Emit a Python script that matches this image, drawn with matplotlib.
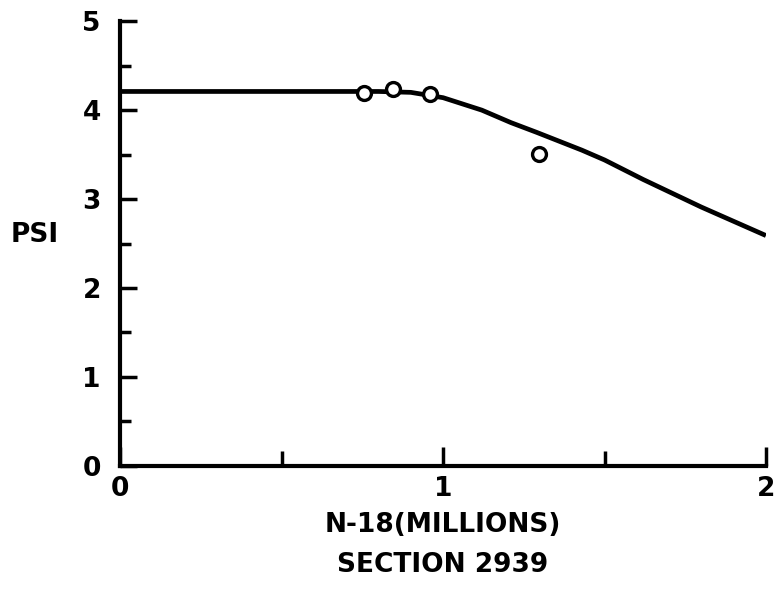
import numpy as np
import matplotlib.pyplot as plt

# --- data ---
# fitted PSI curve (N-18 in millions, PSI)
curve_n = [0.0, 0.80, 0.90, 0.95, 1.00, 1.12, 1.21, 1.29, 1.43, 1.50, 1.62, 1.80, 2.00]
curve_psi = [4.21, 4.21, 4.20, 4.17, 4.14, 4.00, 3.86, 3.75, 3.55, 3.44, 3.22, 2.91, 2.59]

# observed points
obs_n = [0.755, 0.845, 0.96, 1.297]
obs_psi = [4.19, 4.24, 4.18, 3.51]

x_ticks = [0, 1, 2]
x_minor = [0.5, 1.5]
y_ticks = [0, 1, 2, 3, 4, 5]
y_minor = [0.5, 1.5, 2.5, 3.5, 4.5]

plt.rcParams['font.family'] = ['DejaVu Sans']
plt.rcParams['font.weight'] = 'bold'

fig = plt.figure(figsize=(7.76, 5.89), dpi=100)
ax = fig.add_axes([0.155, 0.209, 0.832, 0.755])

ax.plot(curve_n, curve_psi, color='black', lw=3.4, solid_capstyle='butt', zorder=2)
ax.plot(obs_n, obs_psi, 'o', ms=10, mfc='white', mec='black', mew=2.4, zorder=3)

ax.set_xlim(0, 2)
ax.set_ylim(0, 5)
for s in ['top', 'right']:
    ax.spines[s].set_visible(False)
for s in ['left', 'bottom']:
    ax.spines[s].set_linewidth(3)

ax.set_xticks(x_ticks)
ax.set_xticks(x_minor, minor=True)
ax.set_yticks(y_ticks)
ax.set_yticks(y_minor, minor=True)
ax.set_xticklabels([str(t) for t in x_ticks])
ax.set_yticklabels([str(t) for t in y_ticks])

ax.tick_params(axis='both', which='major', direction='in', width=2.5, labelsize=19)
ax.tick_params(axis='both', which='minor', direction='in', width=2.5)
ax.tick_params(axis='y', which='major', length=12, pad=14)
ax.tick_params(axis='y', which='minor', length=8)
ax.tick_params(axis='x', which='major', length=14, pad=7)
ax.tick_params(axis='x', which='minor', length=11)

fig.text(0.045, 1 - 235 / 589, 'PSI', ha='center', va='center', fontsize=19,
         fontweight='bold')
fig.text(443 / 776, 1 - 525 / 589, 'N-18(MILLIONS)', ha='center', va='center',
         fontsize=19, fontweight='bold')
fig.text(443 / 776, 1 - 565 / 589, 'SECTION 2939', ha='center', va='center',
         fontsize=19, fontweight='bold')

fig.savefig('out.png', dpi=100, facecolor='white')
